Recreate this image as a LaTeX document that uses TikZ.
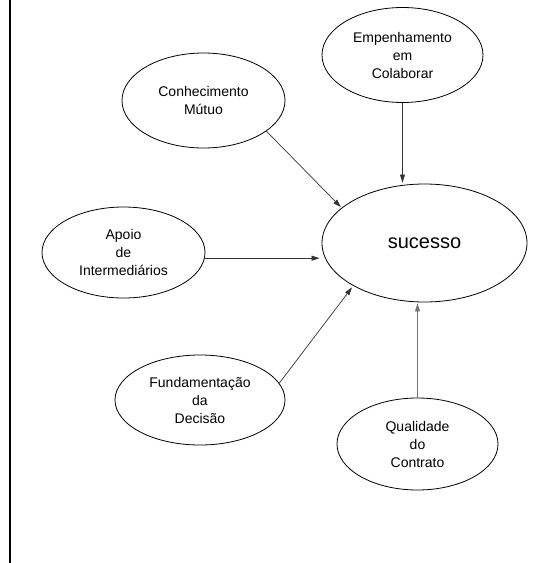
\documentclass[tikz,border=0pt]{standalone}
\usepackage{fontspec}
\setmainfont{Liberation Sans}
\usetikzlibrary{shapes.geometric,arrows.meta}
\tikzset{
  oval/.style={ellipse, draw=black, line width=0.8pt, inner sep=0pt, align=center,
    font=\fontsize{14}{18}\selectfont},
  conn/.style={draw=black!80, line width=0.7pt, -{Triangle[length=8pt,width=5pt]}},
}
\begin{document}
\begin{tikzpicture}[x=1pt,y=-1pt]
\useasboundingbox (0,0) rectangle (550,563);
\draw[line width=2.6pt] (10,0) -- (10,563);

\node[oval, minimum width=161pt, minimum height=95pt] (emp) at (402.5,55) {Empenhamento\\em\\Colaborar};
\node[oval, minimum width=163pt, minimum height=95pt] (conh) at (203.5,100.5) {Conhecimento\\Mútuo};
\node[oval, minimum width=163pt, minimum height=91pt] (apoio) at (123.5,252.5) {Apoio\\de\\Intermediários};
\node[oval, minimum width=205pt, minimum height=118pt, font=\fontsize{20}{24}\selectfont] (suc) at (424.5,243) {sucesso};
\node[oval, minimum width=170pt, minimum height=90pt] (fund) at (200,400) {Fundamentação\\da\\Decisão};
\node[oval, minimum width=161pt, minimum height=92pt] (qual) at (417.5,444) {Qualidade\\do\\Contrato};

\draw[conn, shorten >=1pt] (emp.south) -- (emp.south |- suc.north);
\draw[conn, shorten >=1pt] (conh.-26) -- (suc.157);
\draw[conn, shorten >=2pt] (apoio.-4) -- (apoio.-4 -| suc.west);
\draw[conn, shorten >=2pt] (fund.12) -- (suc.211);
\draw[conn, draw=black!55, shorten >=1pt] (qual.north) -- (qual.north |- suc.south);
\end{tikzpicture}
\end{document}
